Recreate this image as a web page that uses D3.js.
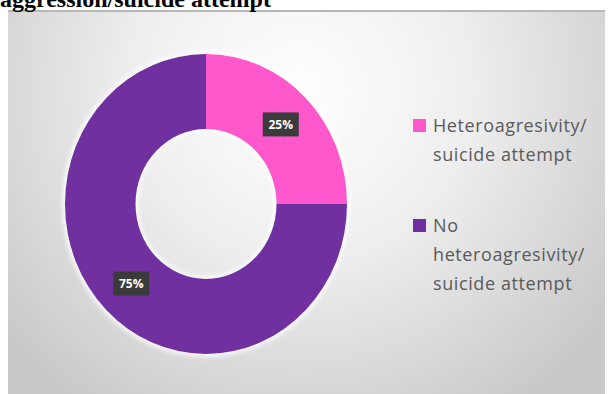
<!DOCTYPE html>
<html>
<head>
<meta charset="utf-8">
<script src="https://cdn.jsdelivr.net/npm/d3@7"></script>
<style>
  html, body { margin: 0; padding: 0; background: #fff; overflow: hidden; }
</style>
</head>
<body>
<div id="chart"></div>
<script>
// data
const categories = ["Heteroagresivity/ suicide attempt", "No heteroagresivity/ suicide attempt"]
const values = [25, 75]
const sliceLabels = ["25%", "75%"]
const legendLines = [["Heteroagresivity/", "suicide attempt"], ["No", "heteroagresivity/", "suicide attempt"]]
const colors = ["#ff58cc", "#7030a0"]

const width = 613, height = 394

const svg = d3.select("#chart")
  .append("svg")
  .attr("width", width)
  .attr("height", height)

const defs = svg.append("defs")

// panel background: light in the upper middle, grey at the edges
const grad = defs.append("radialGradient")
  .attr("id", "bg")
  .attr("gradientUnits", "userSpaceOnUse")
  .attr("cx", 300).attr("cy", 90).attr("r", 380)
grad.append("stop").attr("offset", "0%").attr("stop-color", "#ffffff")
grad.append("stop").attr("offset", "45%").attr("stop-color", "#eeeeee")
grad.append("stop").attr("offset", "100%").attr("stop-color", "#c9c9c9")

const glow = defs.append("filter").attr("id", "glow")
  .attr("x", "-20%").attr("y", "-20%").attr("width", "140%").attr("height", "140%")
glow.append("feGaussianBlur").attr("stdDeviation", 2.5)

svg.append("rect")
  .attr("x", 8).attr("y", 10)
  .attr("width", 597).attr("height", 384)
  .attr("fill", "url(#bg)")

// top edge shadow of the panel
svg.append("rect")
  .attr("x", 8).attr("y", 10)
  .attr("width", 597).attr("height", 2)
  .attr("fill", "#b8b8b8")

// title line cut off at the top, as in the source
svg.append("text")
  .attr("x", 0).attr("y", 7)
  .style("font-family", "'Liberation Serif', 'Times New Roman', serif")
  .style("font-weight", "bold")
  .style("font-size", "24px")
  .attr("fill", "#000")
  .text("aggression/suicide attempt")

// donut (picture is stretched a bit vertically)
const cx = 206, cy = 204, rOuter = 150, sx = 141 / 150
const pie = d3.pie().sort(null)(values)
const arc = d3.arc().innerRadius(rOuter * 0.5).outerRadius(rOuter)

const donut = svg.append("g")
  .attr("transform", "translate(" + cx + "," + cy + ") scale(" + sx + ",1)")

donut.selectAll("path.glow")
  .data(pie)
  .enter()
  .append("path")
    .attr("class", "glow")
    .attr("d", arc)
    .attr("fill", "none")
    .attr("stroke", "#ffffff")
    .attr("stroke-width", 5)
    .attr("filter", "url(#glow)")

donut.selectAll("path.slice")
  .data(pie)
  .enter()
  .append("path")
    .attr("class", "slice")
    .attr("d", arc)
    .attr("fill", (d, i) => colors[i])

// data labels in dark boxes
const labels = svg.append("g")
pie.forEach((d, i) => {
  const c = arc.centroid(d)
  const g = labels.append("g")
    .attr("transform", "translate(" + (cx + c[0] * sx) + "," + (cy + c[1]) + ")")
  g.append("rect")
    .attr("x", -18).attr("y", -12)
    .attr("width", 36).attr("height", 24)
    .attr("fill", "#3b3b3b")
  g.append("text")
    .attr("text-anchor", "middle")
    .attr("dy", "0.36em")
    .style("font-family", "'Open Sans', sans-serif")
    .style("font-weight", "bold")
    .style("font-size", "12px")
    .attr("fill", "#ffffff")
    .text(sliceLabels[i])
})

// legend
const legendTop = [126, 226]
const lineH = 29
const legend = svg.append("g")
legendLines.forEach((lines, i) => {
  legend.append("rect")
    .attr("x", 413).attr("y", legendTop[i] - 7)
    .attr("width", 13).attr("height", 13)
    .attr("fill", colors[i])
  lines.forEach((t, j) => {
    legend.append("text")
      .attr("x", 433)
      .attr("y", legendTop[i] + j * lineH)
      .attr("dy", "0.35em")
      .style("font-family", "'Open Sans', sans-serif")
      .style("font-size", "18px")
      .style("letter-spacing", "0.6px")
      .attr("fill", "#5a5a5a")
      .text(t)
  })
})
</script>
</body>
</html>
